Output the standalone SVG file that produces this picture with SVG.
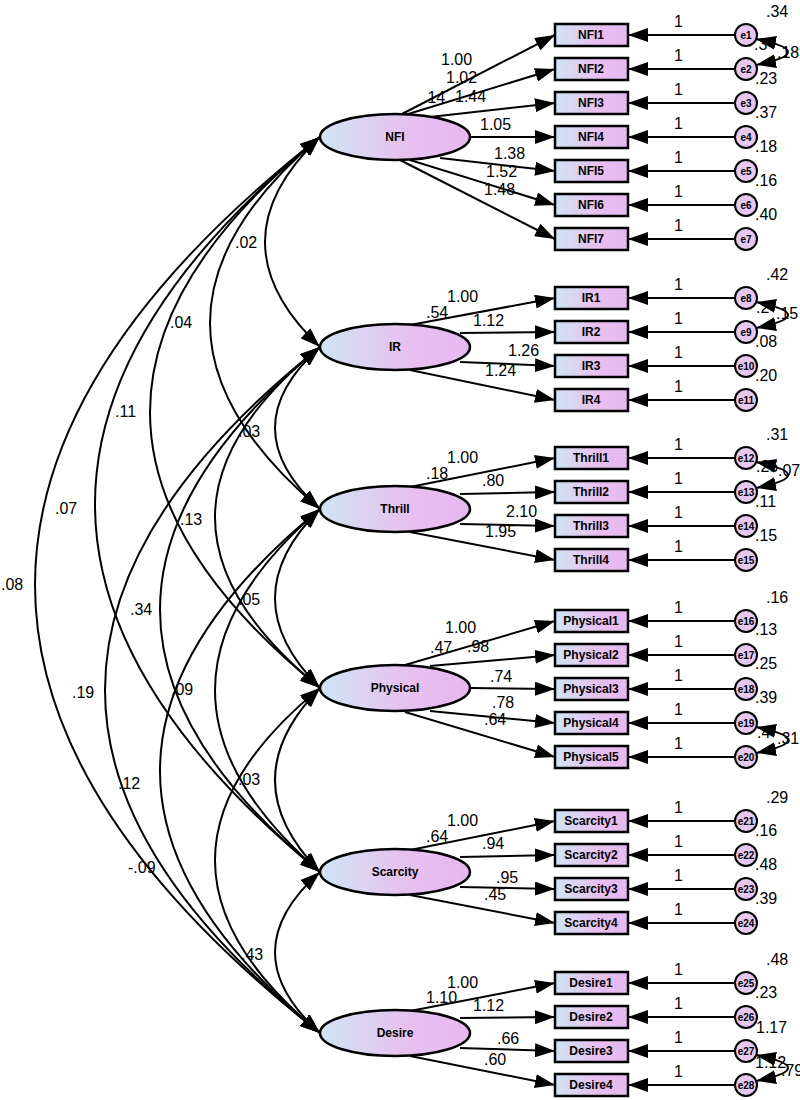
<svg xmlns="http://www.w3.org/2000/svg" width="800" height="1100" viewBox="0 0 800 1100">
<defs>
<linearGradient id="g" x1="0" y1="0" x2="1" y2="0"><stop offset="0" stop-color="#d0e4f2"/><stop offset="0.6" stop-color="#e8bff0"/><stop offset="1" stop-color="#e6b8f0"/></linearGradient>
<marker id="a" viewBox="0 0 20 14" refX="20" refY="7" markerWidth="20" markerHeight="14" markerUnits="userSpaceOnUse" orient="auto-start-reverse"><path class="head" d="M0,0 L20,7 L0,14 Z"/></marker>
</defs>
<style>
.lat{fill:url(#g);stroke:#000;stroke-width:2.5}
.box{fill:url(#g);stroke:#000;stroke-width:2.5}
.err{fill:#e6c8ef;stroke:#000;stroke-width:2}
.t{font-family:"Liberation Sans",Arial,sans-serif;font-weight:bold;font-size:12px;text-anchor:middle}
.e{font-family:"Liberation Sans",Arial,sans-serif;font-weight:bold;font-size:10px;text-anchor:middle}
.n text{font-family:"Liberation Sans",Arial,sans-serif;font-size:16px}
path,line{fill:none;stroke:#000;stroke-width:2}
path.head{fill:#000;stroke:none}
.arr{marker-end:url(#a)}
.bi{marker-start:url(#a);marker-end:url(#a)}
</style>
<rect width="800" height="1100" fill="#fff"/>
<g id="connectors">
<path class="bi" d="M320,137 Q210,242 320,347"/>
<path class="bi" d="M320,137 Q100,323 320,509"/>
<path class="bi" d="M320,137 Q-20,412 320,688"/>
<path class="bi" d="M320,137 Q-130,504 320,872"/>
<path class="bi" d="M320,137 Q-250,585 320,1033"/>
<path class="bi" d="M320,347 Q230,428 320,509"/>
<path class="bi" d="M320,347 Q110,517 320,688"/>
<path class="bi" d="M320,347 Q0,610 320,872"/>
<path class="bi" d="M320,347 Q-110,690 320,1033"/>
<path class="bi" d="M320,509 Q230,598 320,688"/>
<path class="bi" d="M320,509 Q110,690 320,872"/>
<path class="bi" d="M320,509 Q0,771 320,1033"/>
<path class="bi" d="M320,688 Q230,780 320,872"/>
<path class="bi" d="M320,688 Q110,860 320,1033"/>
<path class="bi" d="M320,872 Q230,952 320,1033"/>
<line class="arr" x1="400" y1="115" x2="555" y2="35"/>
<line class="arr" x1="405" y1="115" x2="555" y2="69"/>
<line class="arr" x1="430" y1="117" x2="555" y2="103"/>
<line class="arr" x1="470" y1="137" x2="555" y2="137"/>
<line class="arr" x1="440" y1="158" x2="555" y2="171"/>
<line class="arr" x1="410" y1="160" x2="555" y2="205"/>
<line class="arr" x1="400" y1="160" x2="555" y2="239"/>
<line class="arr" x1="410" y1="325" x2="555" y2="298"/>
<line class="arr" x1="460" y1="333" x2="555" y2="332"/>
<line class="arr" x1="460" y1="362" x2="555" y2="366"/>
<line class="arr" x1="410" y1="370" x2="555" y2="400"/>
<line class="arr" x1="410" y1="487" x2="555" y2="458"/>
<line class="arr" x1="460" y1="494" x2="555" y2="492"/>
<line class="arr" x1="460" y1="524" x2="555" y2="526"/>
<line class="arr" x1="410" y1="532" x2="555" y2="560"/>
<line class="arr" x1="405" y1="665" x2="555" y2="621"/>
<line class="arr" x1="430" y1="666" x2="555" y2="655"/>
<line class="arr" x1="470" y1="688" x2="555" y2="689"/>
<line class="arr" x1="430" y1="711" x2="555" y2="723"/>
<line class="arr" x1="405" y1="712" x2="555" y2="757"/>
<line class="arr" x1="410" y1="850" x2="555" y2="821"/>
<line class="arr" x1="460" y1="857" x2="555" y2="855"/>
<line class="arr" x1="460" y1="887" x2="555" y2="889"/>
<line class="arr" x1="410" y1="895" x2="555" y2="923"/>
<line class="arr" x1="410" y1="1011" x2="555" y2="983"/>
<line class="arr" x1="460" y1="1018" x2="555" y2="1017"/>
<line class="arr" x1="460" y1="1048" x2="555" y2="1051"/>
<line class="arr" x1="410" y1="1056" x2="555" y2="1085"/>
<g id="errlines">
<line class="arr" x1="735" y1="35" x2="628" y2="35"/><line class="arr" x1="735" y1="69" x2="628" y2="69"/><line class="arr" x1="735" y1="103" x2="628" y2="103"/><line class="arr" x1="735" y1="137" x2="628" y2="137"/><line class="arr" x1="735" y1="171" x2="628" y2="171"/><line class="arr" x1="735" y1="205" x2="628" y2="205"/><line class="arr" x1="735" y1="239" x2="628" y2="239"/>
<line class="arr" x1="735" y1="298" x2="628" y2="298"/><line class="arr" x1="735" y1="332" x2="628" y2="332"/><line class="arr" x1="735" y1="366" x2="628" y2="366"/><line class="arr" x1="735" y1="400" x2="628" y2="400"/>
<line class="arr" x1="735" y1="458" x2="628" y2="458"/><line class="arr" x1="735" y1="492" x2="628" y2="492"/><line class="arr" x1="735" y1="526" x2="628" y2="526"/><line class="arr" x1="735" y1="560" x2="628" y2="560"/>
<line class="arr" x1="735" y1="621" x2="628" y2="621"/><line class="arr" x1="735" y1="655" x2="628" y2="655"/><line class="arr" x1="735" y1="689" x2="628" y2="689"/><line class="arr" x1="735" y1="723" x2="628" y2="723"/><line class="arr" x1="735" y1="757" x2="628" y2="757"/>
<line class="arr" x1="735" y1="821" x2="628" y2="821"/><line class="arr" x1="735" y1="855" x2="628" y2="855"/><line class="arr" x1="735" y1="889" x2="628" y2="889"/><line class="arr" x1="735" y1="923" x2="628" y2="923"/>
<line class="arr" x1="735" y1="983" x2="628" y2="983"/><line class="arr" x1="735" y1="1017" x2="628" y2="1017"/><line class="arr" x1="735" y1="1051" x2="628" y2="1051"/><line class="arr" x1="735" y1="1085" x2="628" y2="1085"/>
</g>
<path class="bi" d="M756,39 Q820,52 756,65"/>
<path class="bi" d="M756,302 Q820,315 756,328"/>
<path class="bi" d="M756,462 Q820,475 756,488"/>
<path class="bi" d="M756,727 Q820,740 756,753"/>
<path class="bi" d="M756,1055 Q820,1068 756,1081"/>
</g>
<g id="latents">
<g id="NFI"><ellipse class="lat" cx="395" cy="137" rx="75" ry="23"/><text class="t" x="395" y="141">NFI</text></g>
<g id="IR"><ellipse class="lat" cx="395" cy="347" rx="75" ry="23"/><text class="t" x="395" y="351">IR</text></g>
<g id="Thrill"><ellipse class="lat" cx="395" cy="509" rx="75" ry="23"/><text class="t" x="395" y="513">Thrill</text></g>
<g id="Physical"><ellipse class="lat" cx="395" cy="688" rx="75" ry="23"/><text class="t" x="395" y="692">Physical</text></g>
<g id="Scarcity"><ellipse class="lat" cx="395" cy="872" rx="75" ry="23"/><text class="t" x="395" y="876">Scarcity</text></g>
<g id="Desire"><ellipse class="lat" cx="395" cy="1033" rx="75" ry="23"/><text class="t" x="395" y="1037">Desire</text></g>
</g>
<g id="indicators">
<g id="NFI1"><rect class="box" x="555" y="24" width="73" height="22"/><text class="t" x="591" y="39">NFI1</text></g>
<g id="NFI2"><rect class="box" x="555" y="58" width="73" height="22"/><text class="t" x="591" y="73">NFI2</text></g>
<g id="NFI3"><rect class="box" x="555" y="92" width="73" height="22"/><text class="t" x="591" y="107">NFI3</text></g>
<g id="NFI4"><rect class="box" x="555" y="126" width="73" height="22"/><text class="t" x="591" y="141">NFI4</text></g>
<g id="NFI5"><rect class="box" x="555" y="160" width="73" height="22"/><text class="t" x="591" y="175">NFI5</text></g>
<g id="NFI6"><rect class="box" x="555" y="194" width="73" height="22"/><text class="t" x="591" y="209">NFI6</text></g>
<g id="NFI7"><rect class="box" x="555" y="228" width="73" height="22"/><text class="t" x="591" y="243">NFI7</text></g>
<g id="IR1"><rect class="box" x="555" y="287" width="73" height="22"/><text class="t" x="591" y="302">IR1</text></g>
<g id="IR2"><rect class="box" x="555" y="321" width="73" height="22"/><text class="t" x="591" y="336">IR2</text></g>
<g id="IR3"><rect class="box" x="555" y="355" width="73" height="22"/><text class="t" x="591" y="370">IR3</text></g>
<g id="IR4"><rect class="box" x="555" y="389" width="73" height="22"/><text class="t" x="591" y="404">IR4</text></g>
<g id="Thrill1"><rect class="box" x="555" y="447" width="73" height="22"/><text class="t" x="591" y="462">Thrill1</text></g>
<g id="Thrill2"><rect class="box" x="555" y="481" width="73" height="22"/><text class="t" x="591" y="496">Thrill2</text></g>
<g id="Thrill3"><rect class="box" x="555" y="515" width="73" height="22"/><text class="t" x="591" y="530">Thrill3</text></g>
<g id="Thrill4"><rect class="box" x="555" y="549" width="73" height="22"/><text class="t" x="591" y="564">Thrill4</text></g>
<g id="Physical1"><rect class="box" x="555" y="610" width="73" height="22"/><text class="t" x="591" y="625">Physical1</text></g>
<g id="Physical2"><rect class="box" x="555" y="644" width="73" height="22"/><text class="t" x="591" y="659">Physical2</text></g>
<g id="Physical3"><rect class="box" x="555" y="678" width="73" height="22"/><text class="t" x="591" y="693">Physical3</text></g>
<g id="Physical4"><rect class="box" x="555" y="712" width="73" height="22"/><text class="t" x="591" y="727">Physical4</text></g>
<g id="Physical5"><rect class="box" x="555" y="746" width="73" height="22"/><text class="t" x="591" y="761">Physical5</text></g>
<g id="Scarcity1"><rect class="box" x="555" y="810" width="73" height="22"/><text class="t" x="591" y="825">Scarcity1</text></g>
<g id="Scarcity2"><rect class="box" x="555" y="844" width="73" height="22"/><text class="t" x="591" y="859">Scarcity2</text></g>
<g id="Scarcity3"><rect class="box" x="555" y="878" width="73" height="22"/><text class="t" x="591" y="893">Scarcity3</text></g>
<g id="Scarcity4"><rect class="box" x="555" y="912" width="73" height="22"/><text class="t" x="591" y="927">Scarcity4</text></g>
<g id="Desire1"><rect class="box" x="555" y="972" width="73" height="22"/><text class="t" x="591" y="987">Desire1</text></g>
<g id="Desire2"><rect class="box" x="555" y="1006" width="73" height="22"/><text class="t" x="591" y="1021">Desire2</text></g>
<g id="Desire3"><rect class="box" x="555" y="1040" width="73" height="22"/><text class="t" x="591" y="1055">Desire3</text></g>
<g id="Desire4"><rect class="box" x="555" y="1074" width="73" height="22"/><text class="t" x="591" y="1089">Desire4</text></g>
</g>
<g id="errors">
<g id="e1"><circle class="err" cx="746" cy="35" r="11"/><text class="e" x="746" y="39">e1</text></g>
<g id="e2"><circle class="err" cx="746" cy="69" r="11"/><text class="e" x="746" y="73">e2</text></g>
<g id="e3"><circle class="err" cx="746" cy="103" r="11"/><text class="e" x="746" y="107">e3</text></g>
<g id="e4"><circle class="err" cx="746" cy="137" r="11"/><text class="e" x="746" y="141">e4</text></g>
<g id="e5"><circle class="err" cx="746" cy="171" r="11"/><text class="e" x="746" y="175">e5</text></g>
<g id="e6"><circle class="err" cx="746" cy="205" r="11"/><text class="e" x="746" y="209">e6</text></g>
<g id="e7"><circle class="err" cx="746" cy="239" r="11"/><text class="e" x="746" y="243">e7</text></g>
<g id="e8"><circle class="err" cx="746" cy="298" r="11"/><text class="e" x="746" y="302">e8</text></g>
<g id="e9"><circle class="err" cx="746" cy="332" r="11"/><text class="e" x="746" y="336">e9</text></g>
<g id="e10"><circle class="err" cx="746" cy="366" r="11"/><text class="e" x="746" y="370">e10</text></g>
<g id="e11"><circle class="err" cx="746" cy="400" r="11"/><text class="e" x="746" y="404">e11</text></g>
<g id="e12"><circle class="err" cx="746" cy="458" r="11"/><text class="e" x="746" y="462">e12</text></g>
<g id="e13"><circle class="err" cx="746" cy="492" r="11"/><text class="e" x="746" y="496">e13</text></g>
<g id="e14"><circle class="err" cx="746" cy="526" r="11"/><text class="e" x="746" y="530">e14</text></g>
<g id="e15"><circle class="err" cx="746" cy="560" r="11"/><text class="e" x="746" y="564">e15</text></g>
<g id="e16"><circle class="err" cx="746" cy="621" r="11"/><text class="e" x="746" y="625">e16</text></g>
<g id="e17"><circle class="err" cx="746" cy="655" r="11"/><text class="e" x="746" y="659">e17</text></g>
<g id="e18"><circle class="err" cx="746" cy="689" r="11"/><text class="e" x="746" y="693">e18</text></g>
<g id="e19"><circle class="err" cx="746" cy="723" r="11"/><text class="e" x="746" y="727">e19</text></g>
<g id="e20"><circle class="err" cx="746" cy="757" r="11"/><text class="e" x="746" y="761">e20</text></g>
<g id="e21"><circle class="err" cx="746" cy="821" r="11"/><text class="e" x="746" y="825">e21</text></g>
<g id="e22"><circle class="err" cx="746" cy="855" r="11"/><text class="e" x="746" y="859">e22</text></g>
<g id="e23"><circle class="err" cx="746" cy="889" r="11"/><text class="e" x="746" y="893">e23</text></g>
<g id="e24"><circle class="err" cx="746" cy="923" r="11"/><text class="e" x="746" y="927">e24</text></g>
<g id="e25"><circle class="err" cx="746" cy="983" r="11"/><text class="e" x="746" y="987">e25</text></g>
<g id="e26"><circle class="err" cx="746" cy="1017" r="11"/><text class="e" x="746" y="1021">e26</text></g>
<g id="e27"><circle class="err" cx="746" cy="1051" r="11"/><text class="e" x="746" y="1055">e27</text></g>
<g id="e28"><circle class="err" cx="746" cy="1085" r="11"/><text class="e" x="746" y="1089">e28</text></g>
</g>
<g id="labels" class="n">
<text x="235" y="248">.02</text><text x="170" y="328">.04</text><text x="115" y="417">.11</text><text x="55" y="514">.07</text><text x="1" y="590">.08</text>
<text x="238" y="437">.03</text><text x="180" y="525">.13</text><text x="130" y="615">.34</text><text x="72" y="698">.19</text>
<text x="238" y="605">.05</text><text x="171" y="695">.09</text><text x="118" y="789">.12</text>
<text x="238" y="785">.03</text><text x="128" y="873">-.09</text><text x="241" y="960">.43</text>
<text x="441" y="65">1.00</text><text x="446" y="83">1.02</text><text x="423" y="103">.14</text><text x="455" y="102">1.44</text><text x="480" y="130">1.05</text><text x="494" y="159">1.38</text><text x="486" y="177">1.52</text><text x="484" y="195">1.48</text>
<text x="447" y="302">1.00</text><text x="426" y="318">.54</text><text x="473" y="326">1.12</text><text x="508" y="356">1.26</text><text x="485" y="376">1.24</text>
<text x="447" y="463">1.00</text><text x="426" y="479">.18</text><text x="482" y="486">.80</text><text x="506" y="517">2.10</text><text x="485" y="537">1.95</text>
<text x="445" y="633">1.00</text><text x="430" y="653">.47</text><text x="467" y="652">.98</text><text x="490" y="682">.74</text><text x="492" y="708">.78</text><text x="484" y="725">.64</text>
<text x="447" y="826">1.00</text><text x="426" y="842">.64</text><text x="482" y="849">.94</text><text x="496" y="883">.95</text><text x="484" y="900">.45</text>
<text x="447" y="988">1.00</text><text x="426" y="1003">1.10</text><text x="473" y="1011">1.12</text><text x="497" y="1044">.66</text><text x="484" y="1065">.60</text>
<g id="ones">
<text x="674" y="27">1</text><text x="674" y="61">1</text><text x="674" y="95">1</text><text x="674" y="129">1</text><text x="674" y="163">1</text><text x="674" y="197">1</text><text x="674" y="231">1</text>
<text x="674" y="290">1</text><text x="674" y="324">1</text><text x="674" y="358">1</text><text x="674" y="392">1</text>
<text x="674" y="450">1</text><text x="674" y="484">1</text><text x="674" y="518">1</text><text x="674" y="552">1</text>
<text x="674" y="613">1</text><text x="674" y="647">1</text><text x="674" y="681">1</text><text x="674" y="715">1</text><text x="674" y="749">1</text>
<text x="674" y="813">1</text><text x="674" y="847">1</text><text x="674" y="881">1</text><text x="674" y="915">1</text>
<text x="674" y="975">1</text><text x="674" y="1009">1</text><text x="674" y="1043">1</text><text x="674" y="1077">1</text>
</g>
<g id="variances">
<text x="766" y="17">.34</text><text x="754" y="50">.3</text><text x="777" y="58">.18</text><text x="755" y="84">.23</text><text x="755" y="118">.37</text><text x="755" y="152">.18</text><text x="755" y="186">.16</text><text x="755" y="220">.40</text>
<text x="766" y="280">.42</text><text x="756" y="313">.2</text><text x="776" y="319">.15</text><text x="755" y="347">.08</text><text x="755" y="381">.20</text>
<text x="766" y="440">.31</text><text x="756" y="472">.26</text><text x="778" y="476">.07</text><text x="755" y="507">.11</text><text x="755" y="541">.15</text>
<text x="766" y="603">.16</text><text x="755" y="635">.13</text><text x="755" y="669">.25</text><text x="755" y="703">.39</text><text x="757" y="738">.4</text><text x="777" y="744">.31</text>
<text x="766" y="803">.29</text><text x="755" y="836">.16</text><text x="755" y="870">.48</text><text x="755" y="904">.39</text>
<text x="766" y="965">.48</text><text x="755" y="998">.23</text><text x="756" y="1033">1.17</text><text x="755" y="1068">1.12</text><text x="781" y="1076">.79</text>
</g>
</g>
</svg>
